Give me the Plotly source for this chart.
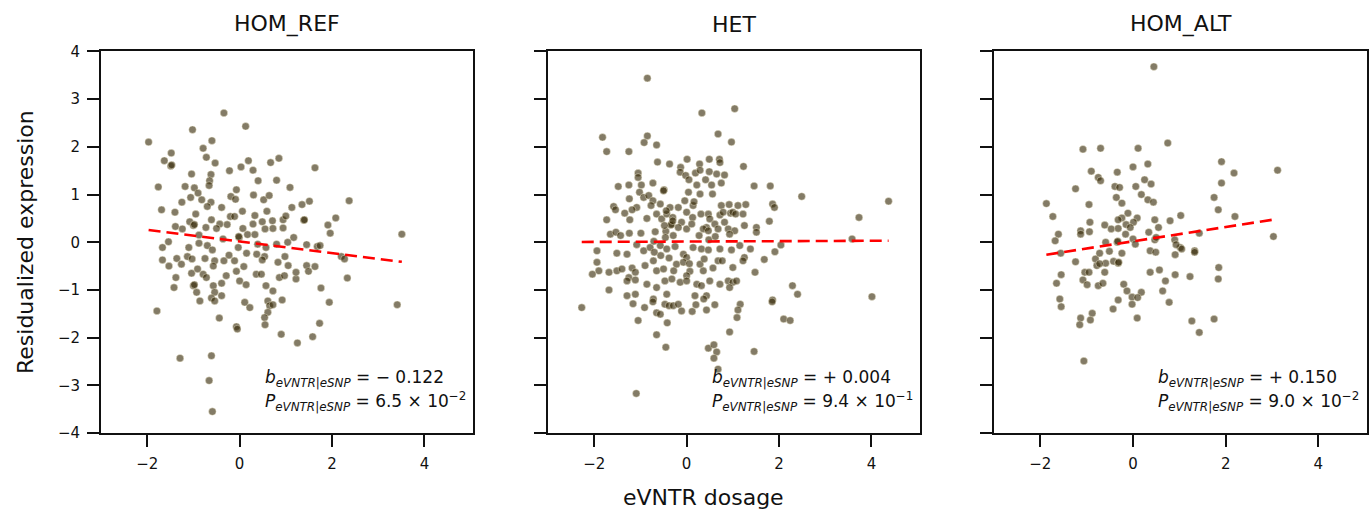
import plotly.graph_objects as go

# ---- data: eVNTR dosage vs residualized expression, by eSNP genotype ----
hom_ref_x = [-0.34, 0.13, -1.02, -1.97, -0.60, -0.79, -1.48, -0.72, -1.63, -1.49, -1.47, -0.53, 0.19, 0.67, 0.85,
             -0.22, 0.03, 0.29, 1.63, -1.04, -0.62, -0.65, -1.76, -1.18, -0.98, -0.66, -0.07, 0.40, 0.80, 1.09,
             -0.90, -1.06, -0.82, -1.25, -0.62, -0.19, -0.09, 0.30, 0.52, 0.64, 1.51, 1.35, 2.37, -1.69, -1.40,
             -0.95, -0.70, -0.39, 0.06, 0.59, 1.13, -1.08, -1.00, -0.98, -0.61, -0.43, -0.20, -0.11, 0.33, 0.49,
             0.71, 0.94, 1.00, 1.39, 1.40, 2.08, -1.39, -1.24, -0.73, -0.50, -0.27, 0.07, 0.29, 0.55, 0.72, 0.94,
             1.91, 1.96, 3.51, -0.88, -0.36, -0.01, -0.02, 0.17, 0.33, 0.39, 0.57, 0.80, 1.17, 1.04, 1.45, 1.68,
             1.74, -1.54, -1.67, -1.10, -0.88, -0.70, -0.59, -0.03, 0.15, 0.37, 0.54, -1.67, -1.53, -1.36, -1.26,
             -1.13, -1.03, -0.75, -0.54, -0.34, -0.23, -0.11, 0.09, 0.49, 0.83, 1.05, 0.98, 1.45, 1.63, 2.20,
             2.27, -1.38, -1.42, -1.00, -0.98, -0.93, -1.04, -0.79, -0.72, -0.57, -0.54, -0.39, -0.29, -0.07,
             0.00, 0.14, 0.36, 0.47, 0.57, 0.72, 0.86, 0.97, 1.22, 1.49, 1.76, 2.33, -1.79, -0.86, -0.61, -0.54,
             -0.39, 0.11, 0.22, 0.61, 0.65, 0.72, 0.92, 0.61, 0.54, 1.94, 3.41, -0.44, -0.07, -0.05, 0.55, 0.90,
             1.58, 1.73, 1.25, -1.29, -0.61, -0.66, -0.59, -0.91, -0.57, 1.22]
hom_ref_y = [2.71, 2.43, 2.36, 2.10, 2.13, 1.97, 1.87, 1.78, 1.71, 1.60, 1.62, 1.66, 1.71, 1.67, 1.76,
             1.50, 1.58, 1.51, 1.56, 1.43, 1.42, 1.29, 1.16, 1.17, 1.14, 1.19, 1.10, 1.29, 1.30, 1.15,
             1.03, 0.94, 0.89, 0.84, 0.84, 0.96, 0.90, 0.99, 0.89, 0.98, 0.86, 0.79, 0.87, 0.68, 0.63,
             0.59, 0.75, 0.73, 0.65, 0.65, 0.73, 0.43, 0.35, 0.37, 0.47, 0.38, 0.54, 0.54, 0.56, 0.43,
             0.45, 0.47, 0.55, 0.46, 0.47, 0.51, 0.33, 0.28, 0.31, 0.29, 0.37, 0.29, 0.38, 0.28, 0.29, 0.30,
             0.36, 0.19, 0.17, 0.15, 0.07, 0.10, 0.12, 0.16, 0.16, -0.04, -0.11, -0.04, 0.10, 0.00, -0.05, -0.09,
             -0.07, 0.01, -0.11, -0.11, -0.02, -0.07, -0.16, -0.11, -0.23, -0.25, -0.30, -0.37, -0.50, -0.34, -0.46,
             -0.30, -0.35, -0.34, -0.39, -0.39, -0.27, -0.39, -0.51, -0.37, -0.42, -0.49, -0.30, -0.49, -0.51, -0.30,
             -0.35, -0.74, -0.95, -0.91, -0.89, -1.05, -0.65, -0.67, -0.74, -0.91, -1.05, -0.86, -0.70, -0.61,
             -0.81, -0.89, -0.67, -0.67, -0.91, -1.02, -0.74, -0.70, -0.77, -0.61, -0.96, -0.75, -1.44, -1.23, -1.17, -1.23,
             -1.12, -1.26, -1.37, -1.23, -1.33, -1.31, -1.21, -1.47, -1.58, -1.26, -1.31, -1.59, -1.77, -1.82, -1.73, -1.93,
             -1.98, -1.70, -2.11, -2.43, -2.38, -2.90, -3.55, -0.56, -0.50, -0.63]

het_x = [-0.85, 0.33, 1.04, -1.82, -0.85, -0.92, -0.65, 0.68, 0.97, -1.73, -1.25, -0.63, -0.37, 0.01, 0.28,
         0.49, 0.71, 0.72, 1.23, -1.05, -1.05, -0.13, -0.14, -0.02, 0.19, 0.29, 0.49, 0.65, 0.82, -1.48,
         -1.25, -0.98, -0.73, -0.49, 0.05, 0.22, 0.41, 0.54, 0.75, 1.46, 1.81,
         -1.02, -0.50, 0.04, 0.29, 0.56, -1.24, -0.93, -0.82, -0.73, -1.08, -0.77, -0.57, -0.36, -0.18,
         -0.04, 0.14, 0.75, 0.92, 1.11, 1.28, 1.86, 1.90, 2.49, 4.37, -1.58, -1.54, -1.34, -1.18, -1.73,
         -1.23, -0.86, -0.65, -0.54, -0.43, -0.30, -0.32, -0.11, 0.00, 0.13, 0.31, 0.47, 0.50, 0.72, 0.79,
         0.95, 1.00, 1.06, 1.22, 0.43, 0.61, 0.82, 0.90, 1.04, 1.25, 1.51, 1.79, 3.73, -1.65, -1.53,
         -1.43, -1.24, -0.99, -0.68, -0.45, -0.34, -0.29, -0.18, 0.00, 0.11, 0.27, 0.36, 0.47, 0.68, 0.93,
         1.51, 3.58, -1.94, -1.94, -1.90, -2.04, -1.51, -1.29, -1.08, -0.93, -0.79, -0.70, -0.57, -0.43,
         -0.25, -0.07, 0.00, 0.14, 0.32, 0.47, 0.72, 0.97, 1.15, 1.25, 1.38, 1.68, 1.91, 2.04, -1.68,
         -1.51, -1.40, -1.18, -1.11, -1.25, -0.90, -0.72, -0.65, -0.50, -0.38, -0.22, -0.07, 0.07, 0.29,
         0.36, 0.57, 0.68, 0.77, 1.00, 1.22, 1.48, -1.68, -1.29, -1.11, -0.86, -0.65, -0.47, -0.32, -0.14,
         0.00, 0.00, 0.22, 0.32, 0.50, 0.72, 0.90, 1.00, 1.08, 0.93, 2.29, 2.40, 4.01, -1.29, -1.11,
         -0.72, -0.43, 0.18, 0.43, 1.86,
         -2.27, -1.16, -0.91, -0.73, -0.65, -0.57, -0.47, -0.38, -0.29, -0.18, -0.11, 0.12, 0.20, 0.37,
         0.43, 0.61, 1.16, 1.11, 1.09, 1.85, 2.10, 2.24, -1.05, -0.42, -0.65, -0.45, 0.93, 0.47, 0.59,
         0.65, 0.59, 0.68, 1.46, -1.09,
         -0.48, -0.46, -0.30, 0.06, 0.48, -0.56, -0.71, 0.16, 0.62, -0.28, -0.44, 0.38]
het_y = [3.44, 2.71, 2.80, 2.20, 2.23, 2.09, 2.04, 2.27, 2.10, 1.90, 1.90, 1.68, 1.64, 1.74, 1.64,
         1.74, 1.74, 1.67, 1.59, 1.45, 1.36, 1.57, 1.47, 1.40, 1.45, 1.51, 1.48, 1.43, 1.41, 1.17,
         1.20, 1.20, 1.24, 1.10, 1.31, 1.20, 1.31, 1.20, 1.24, 1.18, 1.18,
         1.05, 1.08, 1.05, 1.01, 1.01, 0.91, 0.94, 0.98, 0.87, 0.73, 0.77, 0.80, 0.73, 0.73,
         0.87, 0.77, 0.77, 0.79, 0.77, 0.79, 0.80, 0.73, 0.96, 0.86, 0.75, 0.68, 0.61, 0.68, 0.47,
         0.47, 0.50, 0.59, 0.49, 0.59, 0.52, 0.38, 0.42, 0.63, 0.52, 0.59, 0.59, 0.49, 0.57, 0.63,
         0.61, 0.63, 0.59, 0.59, 0.31, 0.38, 0.42, 0.28, 0.24, 0.35, 0.31, 0.44, 0.52, 0.17, 0.21,
         0.14, 0.19, 0.19, 0.22, 0.23, 0.36, 0.14, 0.31, 0.28, 0.38, 0.14, 0.28, 0.24, 0.28, 0.17,
         0.21, 0.07, -0.18, -0.42, -0.60, -0.67, -0.23, -0.25, -0.05, -0.18, -0.11, -0.21, -0.07, -0.14,
         -0.09, -0.25, -0.32, -0.11, -0.14, -0.16, -0.14, -0.16, -0.07, -0.32, -0.14, -0.36, -0.20, -0.06, -0.63,
         -0.60, -0.56, -0.54, -0.63, -0.74, -0.49, -0.39, -0.60, -0.56, -0.33, -0.46, -0.42, -0.61, -0.46,
         -0.60, -0.54, -0.39, -0.39, -0.53, -0.39, -0.63, -1.00, -0.81, -0.79, -0.88, -0.95, -0.81, -0.77, -0.84,
         -0.70, -0.81, -0.88, -0.91, -0.81, -0.88, -0.81, -0.84, -0.81, -0.95, -0.91, -1.09, -1.14, -1.12, -1.09,
         -1.19, -1.09, -1.12, -1.12, -1.21,
         -1.37, -1.29, -1.37, -1.25, -1.48, -1.51, -1.30, -1.33, -1.33, -1.30, -1.44, -1.45, -1.31, -1.19,
         -1.42, -1.31, -1.30, -1.42, -1.58, -1.25, -1.61, -1.64, -1.64, -1.69, -1.94, -2.20, -1.88, -2.22, -2.15,
         -2.30, -2.43, -2.66, -2.29, -3.17,
         0.35, 0.10, 0.45, -0.45, 0.05, -0.28, 0.02, 0.85, 0.12, -0.60, 0.66, -0.35]

hom_alt_x = [0.45, 0.75, -1.08, -0.70, 0.11, 1.91, 0.32, 0.00, -0.90, -0.34, 2.18, 3.12, -0.75, -0.70,
             0.25, 0.39, -1.24, -0.39, -0.29, 0.06, 1.91, -0.36, 0.18, 0.32, 0.44, -0.24, 1.75, -1.87,
             -0.95, 1.84, -1.73, -0.11, -0.24, 0.09, -0.32, 1.03, 2.20, -0.93, 0.47, -0.61, -0.47, -0.32,
             -0.15, 0.01, -0.06, 0.55, 0.80, -1.13, -0.94, -0.16, 0.34, -1.61, -1.68, -1.13, -0.59, -0.34,
             0.00, 0.05, 0.47, 0.90, 1.43, 3.03, 1.02, 1.33,
             -1.56, -1.24, -0.81, -0.72, -0.51, -0.24, 0.37, 0.49, 0.91, 1.05, 1.33, -0.78, -0.59, -0.42,
             -0.32, 1.85, -1.55, -1.04, -0.95, -0.61, 0.37, 0.57, 0.91, 1.23, 1.84, -1.65, -1.08, -0.99,
             -0.75, -0.65, -0.20, -0.13, -0.02, 0.18, 0.70, 0.64, -0.32, -0.02, 0.10, 0.78, -1.58, -1.55,
             -0.88, -0.43, -1.13, -1.15, -0.92, 0.09, 1.27, 1.43, 1.75, -1.06,
             -0.33, 0.93, -0.72, -0.31, 0.50]
hom_alt_y = [3.68, 2.08, 1.95, 1.97, 1.97, 1.69, 1.64, 1.58, 1.49, 1.47, 1.45, 1.51, 1.36, 1.29,
             1.31, 1.22, 1.12, 1.17, 1.15, 1.17, 1.24, 0.94, 1.00, 0.89, 0.84, 0.82, 0.94, 0.81,
             0.79, 0.68, 0.54, 0.61, 0.51, 0.51, 0.47, 0.56, 0.54, 0.42, 0.47, 0.36, 0.28, 0.29,
             0.37, 0.42, 0.31, 0.31, 0.45, 0.24, 0.22, 0.17, 0.21, 0.17, 0.03, 0.17, 0.00, 0.00,
             0.07, -0.04, 0.05, 0.05, 0.19, 0.12, -0.11, -0.18,
             -0.23, -0.41, -0.35, -0.23, -0.19, -0.23, -0.18, -0.21, -0.26, -0.14, -0.21, -0.49, -0.44, -0.40,
             -0.44, -0.53, -0.68, -0.63, -0.63, -0.63, -0.63, -0.58, -0.68, -0.72, -0.77, -0.86, -0.79, -0.89,
             -0.91, -0.86, -0.88, -1.02, -1.15, -1.05, -0.81, -1.02, -1.21, -1.30, -1.16, -1.26, -1.19, -1.35,
             -1.49, -1.40, -1.59, -1.73, -1.63, -1.59, -1.65, -1.89, -1.61, -2.49,
             0.02, -0.05, -0.45, -0.42, 0.10]

panel_titles = ["HOM_REF", "HET", "HOM_ALT"]
slopes = [-0.122, 0.004, 0.150]
intercepts = [0.018, 0.015, 0.020]
slope_labels = ["− 0.122", "+ 0.004", "+ 0.150"]
pval_mantissa = ["6.5", "9.4", "9.0"]
pval_exponent = ["−2", "−1", "−2"]

x_ticks = [-2, 0, 2, 4]
y_ticks = [-4, -3, -2, -1, 0, 1, 2, 3, 4]

# ---- layout geometry (paper fractions) ----
W, H = 1369, 512
PLOT_TOP, PLOT_BOTTOM = 44, 439.5          # pixel rows of the panel frames
x_domains = [[101 / W, 473 / W], [548 / W, 920 / W], [994 / W, 1367 / W]]
y_domain = [1 - PLOT_BOTTOM / H, 1 - PLOT_TOP / H]

FONT = "DejaVu Sans, Verdana, sans-serif"
POINT_COLOR = "rgba(55,42,8,0.62)"

fig = go.Figure()
panels = [(hom_ref_x, hom_ref_y), (het_x, het_y), (hom_alt_x, hom_alt_y)]

for i, (xs, ys) in enumerate(panels):
    ax = "" if i == 0 else str(i + 1)
    fig.add_trace(go.Scatter(
        x=xs, y=ys, mode="markers", xaxis="x" + ax, yaxis="y" + ax,
        marker=dict(size=7.5, color=POINT_COLOR, line=dict(color="rgba(255,250,225,0.7)", width=0.6)),
        showlegend=False, hoverinfo="skip",
    ))
    x0, x1 = min(xs), max(xs)
    fig.add_trace(go.Scatter(
        x=[x0, x1], y=[intercepts[i] + slopes[i] * x0, intercepts[i] + slopes[i] * x1],
        mode="lines", xaxis="x" + ax, yaxis="y" + ax,
        line=dict(color="red", width=2.6, dash="12px,6px"),
        showlegend=False, hoverinfo="skip",
    ))

axis_common = dict(
    showline=True, mirror=True, linecolor="#111", linewidth=1.8,
    ticks="outside", ticklen=12, tickwidth=1.6, tickcolor="#111",
    ticklabelstandoff=4,
    showgrid=False, zeroline=False,
    tickfont=dict(family=FONT, size=15, color="#111"),
)

layout = dict(
    width=W, height=H, margin=dict(l=0, r=0, t=0, b=0),
    paper_bgcolor="white", plot_bgcolor="white",
    font=dict(family=FONT, color="#111"),
)
for i in range(3):
    ax = "" if i == 0 else str(i + 1)
    layout["xaxis" + ax] = dict(
        axis_common, domain=x_domains[i], range=[-3.0, 5.05],
        tickvals=x_ticks, ticktext=[("−" + str(-t)) if t < 0 else str(t) for t in x_ticks],
        anchor="y" + ax,
    )
    layout["yaxis" + ax] = dict(
        axis_common, domain=y_domain, range=[-4, 4],
        tickvals=y_ticks, ticktext=[("−" + str(-t)) if t < 0 else str(t) for t in y_ticks],
        showticklabels=(i == 0), anchor="x" + ax,
    )
fig.update_layout(**layout)

annotations = []
for i in range(3):
    ax = "" if i == 0 else str(i + 1)
    xc = (x_domains[i][0] + x_domains[i][1]) / 2
    annotations.append(dict(
        text=panel_titles[i], x=xc, y=1 - 16 / H, xref="paper", yref="paper",
        showarrow=False, xanchor="center", yanchor="middle",
        font=dict(family=FONT, size=22, color="#111"),
    ))
    annotations.append(dict(
        text="<i>b</i><sub><i>eVNTR|eSNP</i></sub> = " + slope_labels[i],
        x=0.435, y=0.142, xref="x" + ax + " domain", yref="y" + ax + " domain",
        showarrow=False, xanchor="left", yanchor="middle",
        font=dict(family=FONT, size=17, color="#111"),
    ))
    annotations.append(dict(
        text="<i>P</i><sub><i>eVNTR|eSNP</i></sub> = " + pval_mantissa[i] + " × 10<sup>" + pval_exponent[i] + "</sup>",
        x=0.435, y=0.082, xref="x" + ax + " domain", yref="y" + ax + " domain",
        showarrow=False, xanchor="left", yanchor="middle",
        font=dict(family=FONT, size=17, color="#111"),
    ))

annotations.append(dict(
    text="Residualized expression", x=25 / W, y=1 - 241.5 / H, xref="paper", yref="paper",
    showarrow=False, textangle=-90, xanchor="center", yanchor="middle",
    font=dict(family=FONT, size=22, color="#111"),
))
annotations.append(dict(
    text="eVNTR dosage", x=703 / W, y=1 - 506 / H, xref="paper", yref="paper",
    showarrow=False, xanchor="center", yanchor="middle",
    font=dict(family=FONT, size=22, color="#111"),
))
fig.update_layout(annotations=annotations)

fig.write_html("out.html")
